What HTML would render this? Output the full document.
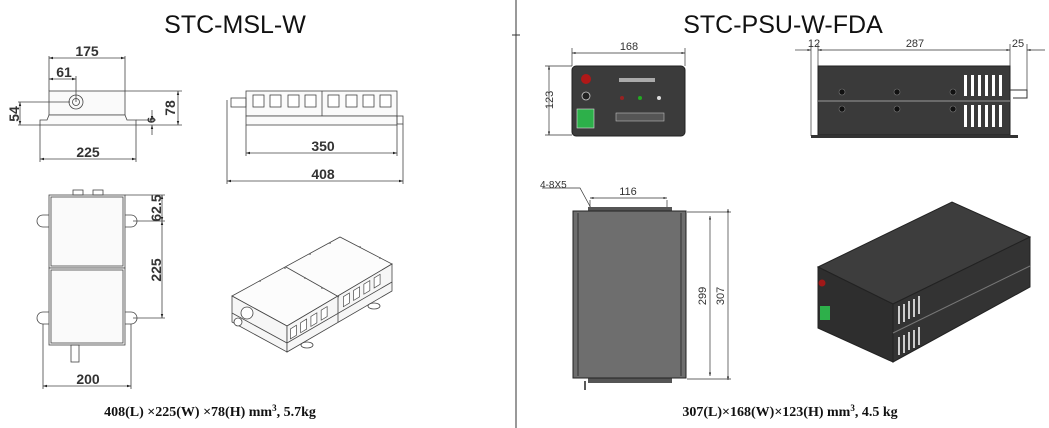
<!DOCTYPE html>
<html><head><meta charset="utf-8"><style>
html,body{margin:0;padding:0;background:#fff;}
svg{display:block;}
text{font-family:"Liberation Sans",sans-serif;}
.t{font-size:25px;fill:#111;}
.d{font-size:14px;font-weight:bold;fill:#333;}
.s{font-size:11px;fill:#333;}
.b{font-family:"Liberation Serif",serif;font-size:14px;font-weight:bold;fill:#111;}
</style></head><body>
<svg width="1049" height="428" viewBox="0 0 1049 428" xmlns="http://www.w3.org/2000/svg">
<defs>
<marker id="a" viewBox="0 0 10 10" refX="10" refY="5" markerWidth="7" markerHeight="5" orient="auto-start-reverse"><path d="M0,2 L10,5 L0,8z" fill="#222"/></marker>
</defs>
<line x1="516" y1="0" x2="516" y2="428" stroke="#333" stroke-width="1"/>
<line x1="512" y1="35" x2="520" y2="35" stroke="#333"/>

<!-- LEFT -->
<text class="t" x="235" y="33" text-anchor="middle">STC-MSL-W</text>
<g stroke="#444" stroke-width="0.8" fill="none">
 <rect x="49" y="91" width="76" height="24" fill="#fafafa"/>
 <path d="M40,125 L40,120 L47,120 L49,115 L125,115 L127,120 L136,120 L136,125 Z" fill="#fafafa"/>
 <circle cx="76" cy="102" r="7"/><circle cx="76" cy="102" r="3.5"/>
 <line x1="49" y1="56" x2="49" y2="91"/><line x1="125" y1="56" x2="125" y2="91"/>
 <line x1="49" y1="58" x2="125" y2="58" marker-start="url(#a)" marker-end="url(#a)"/>
 <line x1="76" y1="76" x2="76" y2="102"/>
 <line x1="49" y1="79" x2="76" y2="79" marker-start="url(#a)" marker-end="url(#a)"/>
 <line x1="18" y1="102" x2="70" y2="102"/><line x1="18" y1="125" x2="40" y2="125"/>
 <line x1="20" y1="102" x2="20" y2="125" marker-start="url(#a)" marker-end="url(#a)"/>
 <line x1="125" y1="91" x2="182" y2="91"/><line x1="136" y1="125" x2="182" y2="125"/>
 <line x1="178" y1="91" x2="178" y2="125" marker-start="url(#a)" marker-end="url(#a)"/>
 <line x1="136" y1="120" x2="156" y2="120"/>
 <line x1="152" y1="110" x2="152" y2="120" marker-end="url(#a)"/>
 <line x1="152" y1="135" x2="152" y2="125" marker-end="url(#a)"/>
 <line x1="40" y1="125" x2="40" y2="162"/><line x1="136" y1="125" x2="136" y2="162"/>
 <line x1="40" y1="159" x2="136" y2="159" marker-start="url(#a)" marker-end="url(#a)"/>
 <!-- side view -->
 <rect x="246" y="91" width="151" height="25" fill="#fafafa"/>
 <rect x="246" y="116" width="151" height="9" fill="#fafafa"/>
 <line x1="322" y1="91" x2="322" y2="116"/>
 <rect x="231" y="98" width="15" height="9"/>
 <rect x="397" y="116" width="6" height="8"/>
 <g fill="#fff">
 <rect x="253" y="95" width="11" height="12"/><rect x="270" y="95" width="11" height="12"/><rect x="288" y="95" width="11" height="12"/><rect x="305" y="95" width="11" height="12"/>
 <rect x="328" y="95" width="11" height="12"/><rect x="346" y="95" width="11" height="12"/><rect x="363" y="95" width="11" height="12"/><rect x="380" y="95" width="11" height="12"/>
 </g>
 <line x1="246" y1="125" x2="246" y2="156"/><line x1="397" y1="125" x2="397" y2="156"/>
 <line x1="246" y1="153" x2="397" y2="153" marker-start="url(#a)" marker-end="url(#a)"/>
 <line x1="227" y1="100" x2="227" y2="184"/><line x1="403" y1="124" x2="403" y2="184"/>
 <line x1="227" y1="181" x2="403" y2="181" marker-start="url(#a)" marker-end="url(#a)"/>
 <!-- top view -->
 <rect x="49" y="195" width="76" height="73" fill="#fafafa"/>
 <rect x="49" y="268" width="76" height="77" fill="#fafafa"/>
 <rect x="51" y="197" width="72" height="69"/><rect x="51" y="270" width="72" height="73"/>
 <rect x="73" y="190" width="10" height="5"/><rect x="93" y="190" width="10" height="5"/>
 <path d="M49,215 h-6 a4,4 0 0 0 0,12 h6"/><path d="M125,215 h6 a4,4 0 0 1 0,12 h-6"/>
 <path d="M49,312 h-6 a4,4 0 0 0 0,12 h6"/><path d="M125,312 h6 a4,4 0 0 1 0,12 h-6"/>
 <rect x="71" y="345" width="8" height="17"/>
 <line x1="125" y1="195" x2="165" y2="195"/><line x1="133" y1="221" x2="165" y2="221"/><line x1="133" y1="318" x2="165" y2="318"/>
 <line x1="162" y1="195" x2="162" y2="221" marker-start="url(#a)" marker-end="url(#a)"/>
 <line x1="162" y1="221" x2="162" y2="318" marker-start="url(#a)" marker-end="url(#a)"/>
 <line x1="43" y1="324" x2="43" y2="389"/><line x1="131" y1="324" x2="131" y2="389"/>
 <line x1="43" y1="386" x2="131" y2="386" marker-start="url(#a)" marker-end="url(#a)"/>
 <!-- iso -->
 <path d="M232,296 L340,237 L392,264 L287,326 Z" fill="#fcfcfc"/>
 <path d="M232,296 L287,326 L287,352 L232,322 Z" fill="#f6f6f6"/>
 <path d="M287,326 L392,264 L392,291 L287,352 Z" fill="#f6f6f6"/>
 <line x1="286" y1="267" x2="339" y2="297"/>
 <line x1="287" y1="343" x2="392" y2="282"/>
 <line x1="232" y1="313" x2="287" y2="343"/>
 <line x1="338" y1="296" x2="338" y2="322"/>
 <g transform="matrix(0.854,-0.52,0,1,287,331)" fill="#fff">
  <rect x="4" y="0" width="7" height="10"/><rect x="16" y="0" width="7" height="10"/><rect x="28" y="0" width="7" height="10"/><rect x="40" y="0" width="7" height="10"/>
  <rect x="66" y="0" width="7" height="10"/><rect x="78" y="0" width="7" height="10"/><rect x="90" y="0" width="7" height="10"/><rect x="102" y="0" width="7" height="10"/>
 </g>
 <circle cx="247" cy="313" r="6" fill="#fff"/><circle cx="238" cy="322" r="4" fill="#fff"/>
 <ellipse cx="307" cy="345" rx="6" ry="3" fill="#fff"/>
 <ellipse cx="374" cy="306" rx="6" ry="3" fill="#fff"/>
</g>
<g fill="#666">
 <circle cx="260" cy="281" r="0.9"/><circle cx="285" cy="268" r="0.9"/><circle cx="310" cy="254" r="0.9"/><circle cx="330" cy="243" r="0.9"/>
 <circle cx="305" cy="278" r="0.9"/><circle cx="322" cy="288" r="0.9"/><circle cx="360" cy="247" r="0.9"/><circle cx="380" cy="258" r="0.9"/>
</g>
<g class="d">
 <text x="87" y="56" text-anchor="middle">175</text>
 <text x="64" y="77" text-anchor="middle">61</text>
 <text x="88" y="157" text-anchor="middle">225</text>
 <text x="323" y="151" text-anchor="middle">350</text>
 <text x="323" y="179" text-anchor="middle">408</text>
 <text x="88" y="384" text-anchor="middle">200</text>
 <text transform="translate(19,114) rotate(-90)" text-anchor="middle">54</text>
 <text transform="translate(175,108) rotate(-90)" text-anchor="middle">78</text>
 <text transform="translate(155,120) rotate(-90)" text-anchor="middle" style="font-size:11px">6</text>
 <text transform="translate(161,208) rotate(-90)" text-anchor="middle">62.5</text>
 <text transform="translate(161,270) rotate(-90)" text-anchor="middle">225</text>
</g>
<text class="b" x="210" y="416" text-anchor="middle">408(L) ×225(W) ×78(H) mm<tspan dy="-5" font-size="9">3</tspan><tspan dy="5">, 5.7kg</tspan></text>

<!-- RIGHT -->
<text class="t" x="783" y="33" text-anchor="middle">STC-PSU-W-FDA</text>
<g stroke="#333" stroke-width="0.7" fill="none">
 <line x1="572" y1="48" x2="572" y2="66"/><line x1="685" y1="48" x2="685" y2="66"/>
 <line x1="572" y1="53" x2="685" y2="53" marker-start="url(#a)" marker-end="url(#a)"/>
 <line x1="545" y1="66" x2="572" y2="66"/><line x1="545" y1="135" x2="572" y2="135"/>
 <line x1="549" y1="66" x2="549" y2="135" marker-start="url(#a)" marker-end="url(#a)"/>
 <line x1="811" y1="44" x2="811" y2="136"/><line x1="818" y1="44" x2="818" y2="66"/>
 <line x1="1010" y1="44" x2="1010" y2="66"/><line x1="1027" y1="44" x2="1027" y2="95"/>
 <line x1="795" y1="50" x2="811" y2="50" marker-end="url(#a)"/>
 <line x1="818" y1="50" x2="1010" y2="50" marker-start="url(#a)" marker-end="url(#a)"/>
 <line x1="1045" y1="50" x2="1027" y2="50" marker-end="url(#a)"/>
 <line x1="590" y1="200" x2="590" y2="210"/><line x1="667" y1="200" x2="667" y2="210"/>
 <line x1="590" y1="198" x2="667" y2="198" marker-start="url(#a)" marker-end="url(#a)"/>
 <line x1="687" y1="212" x2="731" y2="212"/><line x1="687" y1="379" x2="731" y2="379"/>
 <line x1="710" y1="216" x2="710" y2="376" marker-start="url(#a)" marker-end="url(#a)"/>
 <line x1="728" y1="209" x2="728" y2="380" marker-start="url(#a)" marker-end="url(#a)"/>
 <path d="M542,188 L580,188 L592,210"/>
</g>
<rect x="572" y="66" width="113" height="70" rx="4" fill="#3b3b3b" stroke="#222"/>
<circle cx="586" cy="79" r="5" fill="#b01818"/>
<circle cx="586" cy="96" r="4" fill="#222" stroke="#ccc" stroke-width="0.8"/>
<rect x="577" y="109" width="17" height="19" fill="#2db04a" stroke="#ddd" stroke-width="0.6"/>
<rect x="619" y="78" width="36" height="4" fill="#aaa"/>
<circle cx="622" cy="98" r="2" fill="#922"/><circle cx="640" cy="98" r="2" fill="#2a2"/><circle cx="659" cy="98" r="2" fill="#ddd"/>
<rect x="616" y="113" width="48" height="8" fill="#555" stroke="#bbb" stroke-width="0.6"/>
<rect x="818" y="66" width="192" height="69" fill="#3a3a3a" stroke="#222"/>
<line x1="818" y1="101" x2="1010" y2="101" stroke="#999" stroke-width="1"/>
<rect x="811" y="135" width="207" height="3" fill="#333"/>
<path d="M1010,90 L1027,90 L1027,98 L1013,98" fill="none" stroke="#333"/>
<g fill="#111" stroke="#777" stroke-width="0.6">
 <circle cx="842" cy="92" r="3"/><circle cx="897" cy="92" r="3"/><circle cx="953" cy="92" r="3"/>
 <circle cx="842" cy="109" r="3"/><circle cx="897" cy="109" r="3"/><circle cx="953" cy="109" r="3"/>
</g>
<g fill="#fff">
 <rect x="964" y="75" width="3" height="21"/><rect x="971" y="75" width="3" height="21"/><rect x="978" y="75" width="3" height="21"/><rect x="985" y="75" width="3" height="21"/><rect x="992" y="75" width="3" height="21"/><rect x="999" y="75" width="3" height="21"/>
 <rect x="964" y="105" width="3" height="22"/><rect x="971" y="105" width="3" height="22"/><rect x="978" y="105" width="3" height="22"/><rect x="985" y="105" width="3" height="22"/><rect x="992" y="105" width="3" height="22"/><rect x="999" y="105" width="3" height="22"/>
</g>
<rect x="588" y="207" width="84" height="6" fill="#555"/>
<rect x="588" y="377" width="84" height="6" fill="#555"/>
<rect x="573" y="211" width="113" height="167" fill="#6e6e6e" stroke="#222"/>
<line x1="578" y1="213" x2="578" y2="376" stroke="#333"/><line x1="681" y1="213" x2="681" y2="376" stroke="#333"/>
<line x1="585" y1="381" x2="585" y2="390" stroke="#222" stroke-width="1.5"/>
<path d="M818,267 L952,202 L1030,237 L893,304 Z" fill="#3d3d3d" stroke="#222"/>
<path d="M818,267 L893,304 L893,362 L818,328 Z" fill="#2e2e2e" stroke="#222"/>
<path d="M893,304 L1030,237 L1030,287 L893,362 Z" fill="#333" stroke="#222"/>
<line x1="893" y1="333" x2="1030" y2="266" stroke="#777"/>
<circle cx="822" cy="283" r="3.5" fill="#a01818"/>
<rect x="820" y="306" width="10" height="14" fill="#2db04a"/>
<g fill="#ccc">
 <rect x="898" y="306" width="2" height="18"/><rect x="903" y="304" width="2" height="18"/><rect x="908" y="301" width="2" height="18"/><rect x="913" y="299" width="2" height="18"/><rect x="918" y="296" width="2" height="18"/>
 <rect x="898" y="337" width="2" height="18"/><rect x="903" y="335" width="2" height="18"/><rect x="908" y="332" width="2" height="18"/><rect x="913" y="330" width="2" height="18"/><rect x="918" y="327" width="2" height="18"/>
</g>
<g class="s" fill="#333">
 <text x="629" y="50" text-anchor="middle">168</text>
 <text x="814" y="47" text-anchor="middle">12</text>
 <text x="915" y="47" text-anchor="middle">287</text>
 <text x="1018" y="47" text-anchor="middle">25</text>
 <text x="628" y="195" text-anchor="middle">116</text>
 <text x="540" y="188" style="font-size:10px">4-8X5</text>
 <text transform="translate(553,100) rotate(-90)" text-anchor="middle">123</text>
 <text transform="translate(706,296) rotate(-90)" text-anchor="middle">299</text>
 <text transform="translate(724,296) rotate(-90)" text-anchor="middle">307</text>
</g>
<text class="b" x="790" y="416" text-anchor="middle">307(L)×168(W)×123(H) mm<tspan dy="-5" font-size="9">3</tspan><tspan dy="5">, 4.5 kg</tspan></text>
</svg>
</body></html>
